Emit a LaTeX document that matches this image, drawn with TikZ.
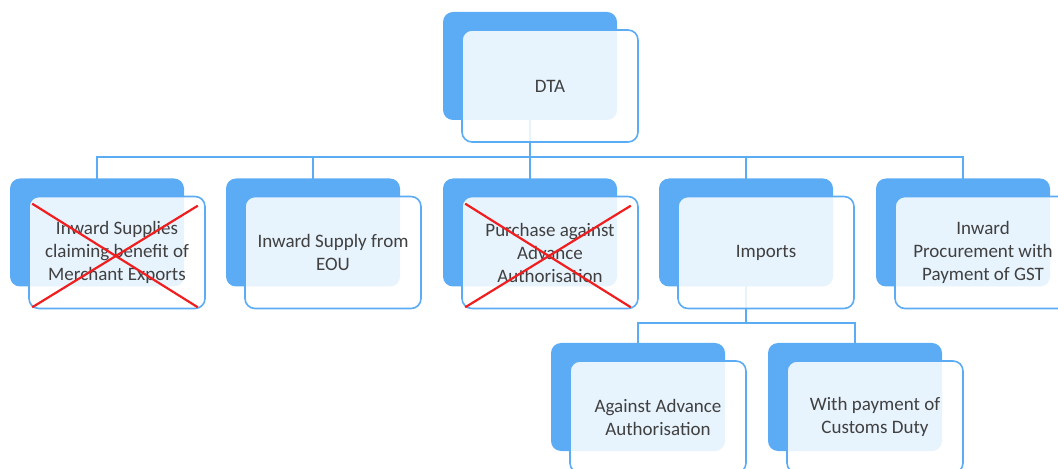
\documentclass[tikz,border=0pt]{standalone}
\usepackage{fontspec}
\setmainfont{Carlito}
\usepackage{tikz}
\usetikzlibrary{positioning, calc, arrows.meta}
\pgfdeclarelayer{background}
\pgfsetlayers{background,main}

\begin{document}
\begin{tikzpicture}[x=0.5pt, y=-0.5pt, every node/.style={font=\fontsize{9.5}{11.5}\selectfont}]
    % Define box styles
    \tikzset{
        backbox/.style={rectangle, rounded corners=5pt, fill=boxblue, minimum width=87pt, minimum height=54pt},
        frontbox/.style={draw=boxblue, line width=0.8pt, rectangle, rounded corners=5pt, fill=white, fill opacity=0.86, text opacity=1, text=textgray, align=center, minimum width=88pt, minimum height=56pt, xshift=10pt, yshift=-10pt},
        conn/.style={draw=boxblue, line width=1pt},
        cross/.style={draw=crossred, line width=1.1pt},
    }
    % Define colors
    \definecolor{boxblue}{RGB}{92,172,245}
    \definecolor{textgray}{RGB}{64,64,64}
    \definecolor{crossred}{RGB}{240,30,30}

    \useasboundingbox (0,0) rectangle (1058,469);

    % Bus lines
    \coordinate (bus1) at (0,157);
    \coordinate (bus2) at (0,323);

    % Nodes
    \node[backbox] (dtaback) at (530,66) {};
    \node[frontbox] (dta) at (dtaback) {DTA};

    \node[backbox] (meisback) at (97,232.5) {};
    \node[frontbox] (meis) at (meisback) {Inward Supplies\\claiming benefit of\\Merchant Exports};
    \node[backbox] (eouback) at (313,232.5) {};
    \node[frontbox] (eou) at (eouback) {Inward Supply from\\EOU};
    \node[backbox] (aaback) at (530,232.5) {};
    \node[frontbox] (aa) at (aaback) {Purchase against\\Advance\\Authorisation};
    \node[backbox] (impback) at (746,232.5) {};
    \node[frontbox] (imp) at (impback) {Imports};
    \node[backbox] (gstback) at (963,232.5) {};
    \node[frontbox] (gst) at (gstback) {Inward\\Procurement with\\Payment of GST};

    \node[backbox] (impaaback) at (638,397) {};
    \node[frontbox] (impaa) at (impaaback) {Against Advance\\Authorisation};
    \node[backbox] (dutyback) at (855,397) {};
    \node[frontbox] (duty) at (dutyback) {With payment of\\Customs Duty};

    % Connectors
    \begin{pgfonlayer}{background}
        \foreach \child in {meisback, eouback, aaback, impback, gstback}
            \draw[conn] (dtaback.center) -- (dtaback.center |- bus1) -| (\child.center);
        \foreach \child in {impaaback, dutyback}
            \draw[conn] (impback.center) -- (impback.center |- bus2) -| (\child.center);
    \end{pgfonlayer}

    % Crossed out boxes
    \draw[cross] ($(meis.north west)+(2pt,-4pt)$) -- ($(meis.south east)+(-4pt,1pt)$);
    \draw[cross] ($(meis.south west)+(2pt,1pt)$) -- ($(meis.north east)+(-4pt,-5pt)$);
    \draw[cross] ($(aa.north west)+(2pt,-4pt)$) -- ($(aa.south east)+(-4pt,1pt)$);
    \draw[cross] ($(aa.south west)+(2pt,1pt)$) -- ($(aa.north east)+(-4pt,-5pt)$);
\end{tikzpicture}
\end{document}
